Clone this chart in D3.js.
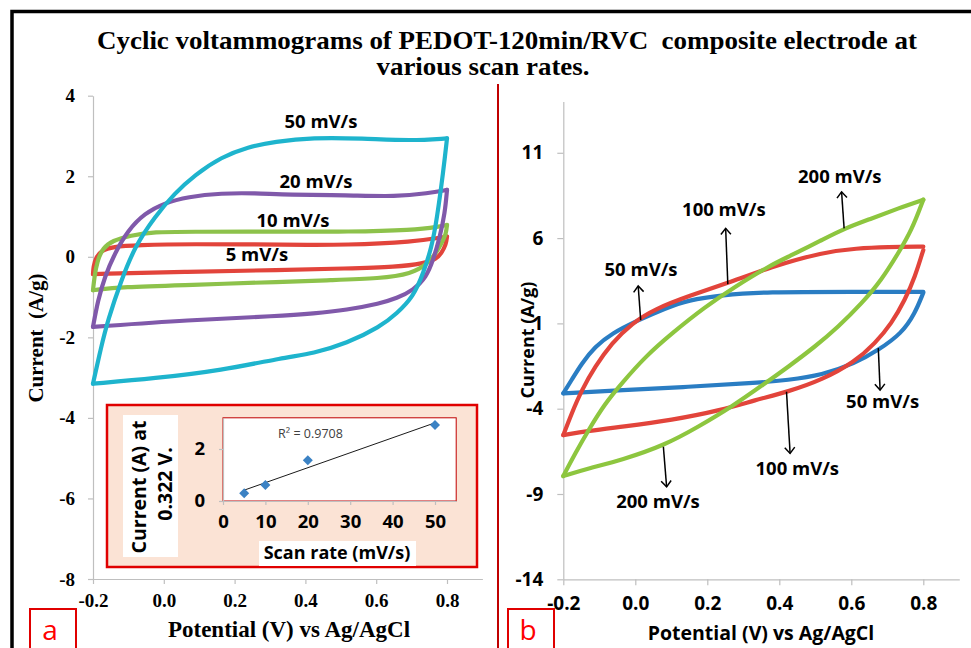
<!DOCTYPE html>
<html><head><meta charset="utf-8">
<script src="https://cdn.jsdelivr.net/npm/d3@7"></script>
<style>body{margin:0;background:#fff} text{white-space:pre}</style>
</head><body><svg id="c" width="971" height="648"></svg>
<script>
// ---------------- DATA ----------------
const potentialTicks = [-0.2, 0.0, 0.2, 0.4, 0.6, 0.8];
const leftCurrentTicks = [4, 2, 0, -2, -4, -6, -8];
const rightCurrentTicks = [11, 6, 1, -4, -9, -14];
const insetScanTicks = [0, 10, 20, 30, 40, 50];
const insetCurrentTicks = [0, 2];

// Panel a : [potential V, current A/g]
const a5Fwd  = [[-0.2,-0.43],[-0.199,-0.25],[-0.192,-0.02],[-0.176,0.16],[-0.145,0.25],[-0.073,0.29],[0.068,0.32],[0.351,0.30],[0.517,0.29],[0.705,0.37],[0.80,0.50]];
const a5Rev  = [[0.80,0.50],[0.797,0.30],[0.785,0.10],[0.771,-0.05],[0.733,-0.17],[0.658,-0.25],[0.517,-0.29],[0.328,-0.33],[0.068,-0.37],[-0.2,-0.43]];
const a10Fwd = [[-0.2,-0.83],[-0.196,-0.50],[-0.188,-0.10],[-0.172,0.22],[-0.145,0.40],[-0.095,0.53],[-0.026,0.62],[0.068,0.62],[0.35,0.63],[0.517,0.62],[0.705,0.66],[0.78,0.75],[0.80,0.79]];
const a10Rev = [[0.80,0.79],[0.797,0.55],[0.785,0.35],[0.771,0.12],[0.745,-0.18],[0.70,-0.42],[0.611,-0.54],[0.469,-0.58],[0.34,-0.62],[0.068,-0.70],[-0.12,-0.75],[-0.2,-0.83]];
const a20Fwd = [[-0.2,-1.74],[-0.186,-1.08],[-0.167,-0.50],[-0.139,0.08],[-0.101,0.66],[-0.054,1.08],[0.0,1.33],[0.068,1.49],[0.163,1.58],[0.257,1.58],[0.351,1.54],[0.517,1.53],[0.658,1.49],[0.747,1.58],[0.80,1.66]];
const a20Rev = [[0.80,1.66],[0.794,1.08],[0.780,0.50],[0.761,-0.08],[0.742,-0.50],[0.705,-0.83],[0.658,-1.03],[0.611,-1.16],[0.517,-1.32],[0.422,-1.41],[0.328,-1.47],[0.068,-1.57],[-0.2,-1.74]];
const a50Fwd = [[-0.2,-3.15],[-0.177,-2.24],[-0.158,-1.57],[-0.12,-0.58],[-0.082,0.25],[-0.026,0.99],[0.031,1.58],[0.087,2.03],[0.163,2.48],[0.238,2.73],[0.313,2.86],[0.42,2.96],[0.56,2.94],[0.70,2.88],[0.80,2.94]];
const a50Rev = [[0.80,2.94],[0.79,2.15],[0.771,0.91],[0.757,0.25],[0.733,-0.41],[0.705,-0.99],[0.658,-1.41],[0.611,-1.74],[0.517,-2.15],[0.422,-2.40],[0.34,-2.50],[0.163,-2.82],[-0.026,-3.02],[-0.2,-3.15]];
const leftSeriesLabels = ["5 mV/s","10 mV/s","20 mV/s","50 mV/s"];
const leftLabelPos = [[0.263,-0.11],[0.365,0.74],[0.43,1.71],[0.444,3.20]];

// Panel b
const b50Fwd  = [[-0.2,-3.10],[-0.177,-2.32],[-0.149,-1.35],[-0.112,-0.37],[-0.066,0.41],[0.008,1.19],[0.083,1.88],[0.147,2.37],[0.24,2.66],[0.36,2.85],[0.61,2.85],[0.80,2.85]];
const b50Rev  = [[0.80,2.80],[0.777,1.59],[0.74,0.41],[0.675,-0.57],[0.61,-1.35],[0.518,-2.03],[0.425,-2.32],[0.33,-2.50],[0.147,-2.72],[-0.038,-2.91],[-0.2,-3.10]];
const b100Fwd = [[-0.2,-5.55],[-0.177,-4.28],[-0.149,-2.91],[-0.112,-1.54],[-0.066,-0.17],[-0.01,1.0],[0.055,1.85],[0.15,2.62],[0.257,3.36],[0.375,4.3],[0.522,5.18],[0.615,5.4],[0.70,5.48],[0.80,5.5]];
const b100Rev = [[0.80,5.3],[0.777,3.73],[0.749,2.37],[0.712,1.0],[0.666,-0.17],[0.61,-1.25],[0.518,-2.32],[0.425,-3.0],[0.332,-3.50],[0.24,-4.08],[0.101,-4.67],[-0.038,-5.06],[-0.13,-5.30],[-0.2,-5.55]];
const b200Fwd = [[-0.2,-7.95],[-0.167,-6.62],[-0.13,-5.25],[-0.084,-3.69],[-0.038,-2.52],[0.027,-0.96],[0.101,0.41],[0.194,1.97],[0.277,3.15],[0.375,4.4],[0.425,4.90],[0.518,5.88],[0.582,6.57],[0.657,7.15],[0.73,7.74],[0.80,8.25]];
const b200Rev = [[0.80,8.25],[0.768,6.47],[0.73,5.10],[0.684,3.54],[0.629,2.17],[0.564,0.80],[0.499,-0.37],[0.425,-1.54],[0.36,-2.52],[0.268,-3.89],[0.175,-5.06],[0.083,-6.13],[-0.038,-7.01],[-0.13,-7.50],[-0.2,-7.95]];
const rightLabels = ["200 mV/s","100 mV/s","50 mV/s","50 mV/s","100 mV/s","200 mV/s"];
const rightLabelPos = [[0.568,9.22],[0.246,7.29],[0.016,3.77],[0.687,-3.96],[0.45,-7.89],[0.063,-9.82]];
const rightArrowFrom = [[0.58,6.57],[0.257,3.30],[0.015,1.19],[0.675,-0.45],[0.42,-3.01],[0.078,-6.23]];
const rightArrowTo   = [[0.573,8.71],[0.251,6.57],[0.008,3.19],[0.68,-2.91],[0.43,-6.62],[0.087,-8.58]];

// Inset
const insetScan = [5, 10, 20, 50];
const insetCurrent = [0.30, 0.62, 1.57, 2.92];
const insetR2 = "R² = 0.9708";

// ---------------- DRAW ----------------
const svg = d3.select("#c");
const SERIF = "'Liberation Serif','Times New Roman',serif";
const SANS = "'Open Sans','Noto Sans',sans-serif";
const AX = "#bfbfbf";

svg.append("rect").attr("width",971).attr("height",648).attr("fill","#fff");
svg.append("path").attr("d","M12,648 V11.5 H971").attr("fill","none").attr("stroke","#000").attr("stroke-width",3.5);
svg.append("line").attr("x1",498).attr("x2",498).attr("y1",84).attr("y2",648).attr("stroke","#c00000").attr("stroke-width",2);

svg.append("text").attr("x",507).attr("y",49).attr("text-anchor","middle")
  .attr("font-family",SERIF).attr("font-weight","bold").attr("font-size",25)
  .attr("textLength",820).attr("lengthAdjust","spacingAndGlyphs")
  .text("Cyclic voltammograms of PEDOT-120min/RVC  composite electrode at");
svg.append("text").attr("x",483).attr("y",75).attr("text-anchor","middle")
  .attr("font-family",SERIF).attr("font-weight","bold").attr("font-size",25)
  .attr("textLength",213).attr("lengthAdjust","spacingAndGlyphs")
  .text("various scan rates.");

function styleAxis(g, font, size){
  g.select(".domain").attr("stroke",AX).attr("stroke-width",1.2);
  g.selectAll(".tick line").attr("stroke",AX).attr("stroke-width",1.2);
  g.selectAll(".tick text").attr("font-family",font).attr("font-weight","bold").attr("font-size",size).attr("fill","#000");
}
const line = d3.line().x(d=>d[0]).y(d=>d[1]).curve(d3.curveBasis);

// ----- Panel a -----
const xL = d3.scaleLinear().domain([-0.2,0.9]).range([93,482.4]);
const yL = d3.scaleLinear().domain([-8,4]).range([579,95.7]);
styleAxis(svg.append("g").attr("transform",`translate(0,${yL(-8)})`)
  .call(d3.axisBottom(xL).tickValues(potentialTicks).tickSize(5).tickSizeOuter(0).tickPadding(10).tickFormat(d=>d.toFixed(1))), SERIF, 19);
styleAxis(svg.append("g").attr("transform",`translate(${xL(-0.2)},0)`)
  .call(d3.axisLeft(yL).tickValues(leftCurrentTicks).tickSize(5).tickSizeOuter(0).tickPadding(13).tickFormat(d=>String(d))), SERIF, 19);

const leftSeries = [[a5Fwd,a5Rev],[a10Fwd,a10Rev],[a20Fwd,a20Rev],[a50Fwd,a50Rev]];
const leftColors = ["#e2443b","#8dc24b","#8059aa","#1eb4cd"];
leftSeries.forEach((s,i)=>{
  s.forEach(br=>{
    svg.append("path").attr("d",line(br.map(p=>[xL(p[0]),yL(p[1])])))
      .attr("fill","none").attr("stroke",leftColors[i]).attr("stroke-width",4.2)
      .attr("stroke-linecap","round").attr("stroke-linejoin","round");
  });
});
leftSeriesLabels.forEach((t,i)=>{
  svg.append("text").attr("x",xL(leftLabelPos[i][0])).attr("y",yL(leftLabelPos[i][1]))
    .attr("text-anchor","middle").attr("font-family",SANS).attr("font-weight","bold").attr("font-size",18.5).text(t);
});
svg.append("text").attr("x",289).attr("y",637).attr("text-anchor","middle")
  .attr("font-family",SERIF).attr("font-weight","bold").attr("font-size",23).text("Potential (V) vs Ag/AgCl");
svg.append("text").attr("transform","translate(43,338) rotate(-90)").attr("text-anchor","middle")
  .attr("font-family",SERIF).attr("font-weight","bold").attr("font-size",21).text("Current  (A/g)");

// inset
svg.append("rect").attr("x",107).attr("y",405).attr("width",370).attr("height",162)
  .attr("fill","#fbe3d5").attr("stroke","#e00000").attr("stroke-width",2.5);
const xI = d3.scaleLinear().domain([0,55]).range([223,456.2]);
const yI = d3.scaleLinear().domain([0,3.2]).range([501,417.8]);
svg.append("rect").attr("x",xI(0)).attr("y",yI(3.2)).attr("width",xI(55)-xI(0)).attr("height",yI(0)-yI(3.2))
  .attr("fill","#fff").attr("stroke","#c00000").attr("stroke-width",1);
styleAxis(svg.append("g").attr("transform",`translate(0,${yI(0)})`)
  .call(d3.axisBottom(xI).tickValues(insetScanTicks).tickSize(4).tickSizeOuter(0).tickPadding(10).tickFormat(d=>String(d))), SANS, 18.5);
styleAxis(svg.append("g").attr("transform",`translate(${xI(0)},0)`)
  .call(d3.axisLeft(yI).tickValues(insetCurrentTicks).tickSize(4).tickSizeOuter(0).tickPadding(14).tickFormat(d=>String(d))), SANS, 18.5);
const mx = d3.mean(insetScan), my = d3.mean(insetCurrent);
const slope = d3.sum(insetScan.map((x,i)=>(x-mx)*(insetCurrent[i]-my))) / d3.sum(insetScan.map(x=>(x-mx)*(x-mx)));
const icpt = my - slope*mx;
const xs = d3.extent(insetScan);
svg.append("line").attr("x1",xI(xs[0])).attr("y1",yI(icpt+slope*xs[0])).attr("x2",xI(xs[1])).attr("y2",yI(icpt+slope*xs[1]))
  .attr("stroke","#000").attr("stroke-width",0.9);
insetScan.forEach((x,i)=>{
  svg.append("path").attr("d",d3.symbol(d3.symbolSquare,50)())
    .attr("transform",`translate(${xI(x)},${yI(insetCurrent[i])}) rotate(45)`).attr("fill","#3b82c4");
});
svg.append("text").attr("x",xI(13)).attr("y",yI(2.42)).attr("font-family",SANS).attr("font-size",12.5).attr("fill","#404040").text(insetR2);
svg.append("rect").attr("x",123).attr("y",415).attr("width",55).attr("height",142).attr("fill","#fff");
svg.append("text").attr("transform","translate(146,487) rotate(-90)").attr("text-anchor","middle")
  .attr("font-family",SANS).attr("font-weight","bold").attr("font-size",19.5).text("Current (A) at");
svg.append("text").attr("transform","translate(172,484) rotate(-90)").attr("text-anchor","middle")
  .attr("font-family",SANS).attr("font-weight","bold").attr("font-size",19.5).text("0.322 V.");
svg.append("rect").attr("x",259).attr("y",541).attr("width",157).attr("height",25).attr("fill","#fff");
svg.append("text").attr("x",337).attr("y",559).attr("text-anchor","middle")
  .attr("font-family",SANS).attr("font-weight","bold").attr("font-size",18).text("Scan rate (mV/s)");

// ----- Panel b -----
const xR = d3.scaleLinear().domain([-0.2,0.9]).range([563.3,959.3]);
const yR = d3.scaleLinear().domain([-14,14]).range([579.3,101.6]);
styleAxis(svg.append("g").attr("transform",`translate(0,${yR(-14)})`)
  .call(d3.axisBottom(xR).tickValues(potentialTicks).tickSize(6).tickSizeOuter(0).tickPadding(11).tickFormat(d=>d.toFixed(1))), SANS, 19);
styleAxis(svg.append("g").attr("transform",`translate(${xR(-0.2)},0)`)
  .call(d3.axisLeft(yR).tickValues(rightCurrentTicks).tickSize(6).tickSizeOuter(0).tickPadding(14).tickFormat(d=>String(d))), SANS, 19);

const rightSeries = [[b50Fwd,b50Rev],[b100Fwd,b100Rev],[b200Fwd,b200Rev]];
const rightColors = ["#2a7dc3","#e2443b","#8dc63f"];
rightSeries.forEach((s,i)=>{
  s.forEach(br=>{
    svg.append("path").attr("d",line(br.map(p=>[xR(p[0]),yR(p[1])])))
      .attr("fill","none").attr("stroke",rightColors[i]).attr("stroke-width",4.2)
      .attr("stroke-linecap","round").attr("stroke-linejoin","round");
  });
});
svg.append("defs").append("marker").attr("id","arr").attr("markerUnits","userSpaceOnUse")
  .attr("markerWidth",14).attr("markerHeight",14).attr("refX",7).attr("refY",7).attr("orient","auto")
  .append("path").attr("d","M1,2 L7,7 L1,12").attr("fill","none").attr("stroke","#000").attr("stroke-width",1.5);
rightArrowFrom.forEach((f,i)=>{
  const t = rightArrowTo[i];
  svg.append("line").attr("x1",xR(f[0])).attr("y1",yR(f[1])).attr("x2",xR(t[0])).attr("y2",yR(t[1]))
    .attr("stroke","#000").attr("stroke-width",1.5).attr("marker-end","url(#arr)");
});
rightLabels.forEach((t,i)=>{
  svg.append("text").attr("x",xR(rightLabelPos[i][0])).attr("y",yR(rightLabelPos[i][1]))
    .attr("text-anchor","middle").attr("font-family",SANS).attr("font-weight","bold").attr("font-size",18.5).text(t);
});
svg.append("text").attr("x",761).attr("y",640).attr("text-anchor","middle")
  .attr("font-family",SANS).attr("font-weight","bold").attr("font-size",19.5).text("Potential (V) vs Ag/AgCl");
svg.append("text").attr("transform","translate(534,340) rotate(-90)").attr("text-anchor","middle")
  .attr("font-family",SANS).attr("font-weight","bold").attr("font-size",18).text("Current (A/g)");

[["a",30],["b",508]].forEach(([t,x])=>{
  svg.append("rect").attr("x",x).attr("y",609).attr("width",46).attr("height",50).attr("fill","#fff").attr("stroke","#e00000").attr("stroke-width",2);
  svg.append("text").attr("x",x+20).attr("y",640).attr("text-anchor","middle").attr("font-family",SANS).attr("font-size",28).attr("fill","#ff0000").text(t);
});
</script></body></html>
